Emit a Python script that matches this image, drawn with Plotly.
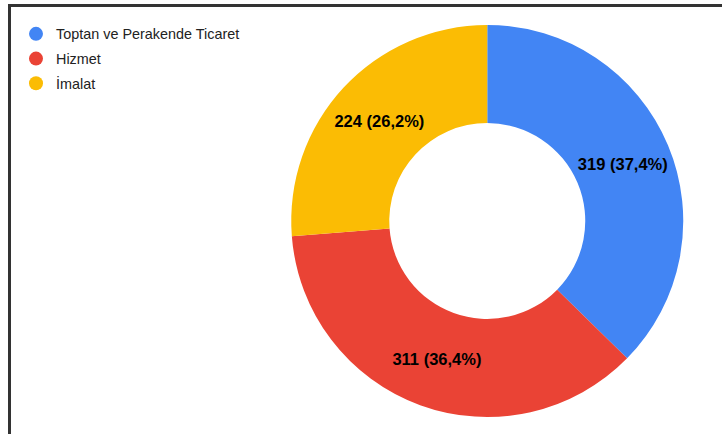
import plotly.graph_objects as go

categories = ["Toptan ve Perakende Ticaret", "Hizmet", "İmalat"]
values = [319, 311, 224]
colors = ["#4285F4", "#EA4335", "#FBBC04"]

W, H = 722, 434
total = sum(values)
labels_text = [f"{v} ({v / total * 100:.1f}%)".replace(".", ",") for v in values]

fig = go.Figure()
fig.add_trace(go.Pie(
    labels=categories,
    values=values,
    text=labels_text,
    textinfo="text",
    textposition="inside",
    insidetextorientation="horizontal",
    insidetextfont=dict(family="Arial, Liberation Sans", size=16.5, color="#000000", weight="bold"),
    marker=dict(colors=colors, line=dict(width=0)),
    hole=0.5,
    sort=False,
    direction="clockwise",
    rotation=0,
    showlegend=False,
    domain=dict(x=[287.5 / W, 687 / W], y=[1 - 417 / H, 1 - 25 / H]),
))

for i, (c, col) in enumerate(zip(categories, colors)):
    fig.add_trace(go.Scatter(
        x=[None], y=[None], mode="markers", name=c,
        marker=dict(symbol="circle", size=14, color=col),
        legendgroup=f"g{i}", showlegend=True,
    ))

fig.update_layout(
    width=W, height=H,
    margin=dict(l=0, r=0, t=0, b=0),
    paper_bgcolor="white", plot_bgcolor="white",
    xaxis=dict(visible=False), yaxis=dict(visible=False),
    legend=dict(
        x=16 / W, y=1 - 18 / H, xanchor="left", yanchor="top",
        font=dict(family="Arial, Liberation Sans", size=14.4, color="#222222"),
        tracegroupgap=3, bgcolor="rgba(0,0,0,0)",
    ),
    shapes=[
        dict(type="line", xref="paper", yref="paper", x0=9.5 / W, x1=9.5 / W, y0=0, y1=1 - 4 / H,
             line=dict(color="#333333", width=3)),
        dict(type="line", xref="paper", yref="paper", x0=8 / W, x1=1, y0=1 - 5.5 / H, y1=1 - 5.5 / H,
             line=dict(color="#333333", width=3)),
    ],
)

fig.write_html("out.html", config={"displayModeBar": False},
               post_script="document.body.style.margin='0px';")
